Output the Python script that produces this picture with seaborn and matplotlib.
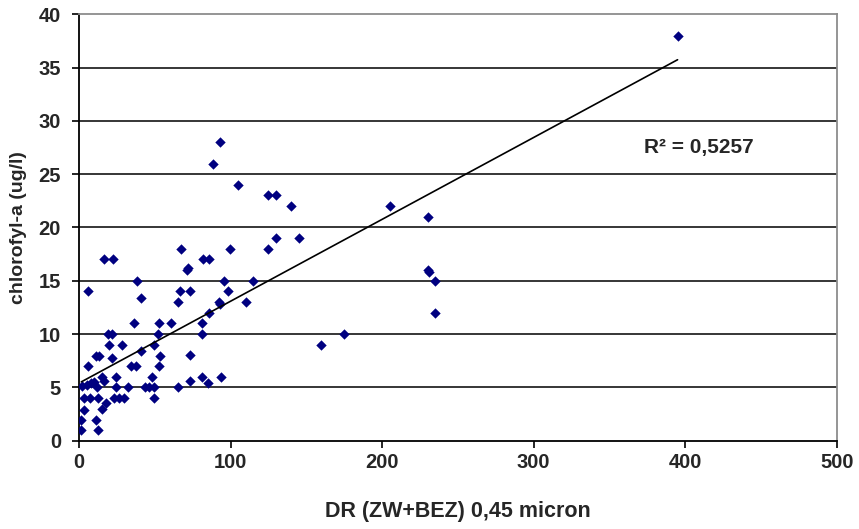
import numpy as np
import pandas as pd
import matplotlib
matplotlib.use('Agg')
import matplotlib.pyplot as plt
import seaborn as sns

# values
dr = [395, 93, 88.5, 105, 125, 130, 140, 205, 230,
      67, 99.5, 125, 130, 145,
      16.7, 22.6, 82, 86,
      71, 72, 230, 231,
      38, 95.6, 115, 235,
      6, 66.6, 73, 98,
      40.7,
      65.5, 92.5, 93, 110,
      86, 235,
      36, 53, 61, 81,
      19, 22, 52, 81, 175,
      20, 28.5, 49.5, 160,
      41,
      11, 13, 22, 53.4, 73,
      6, 34.5, 37.5, 52.5,
      15, 24.5, 48, 81, 94,
      16.5, 73, 85,
      2, 5.5, 7.7, 10, 11.6, 24.2, 32, 43.5, 46.5, 49.5, 65,
      3, 7, 12.5, 23, 26.5, 29.7, 49.6,
      17.6, 15, 3,
      1.5, 11,
      1.5, 12.5]
chl = [38, 28, 26, 24, 23, 23, 22, 22, 21,
       18, 18, 18, 19, 19,
       17, 17, 17, 17,
       16, 16.2, 16, 15.8,
       15, 15, 15, 15,
       14, 14, 14, 14,
       13.4,
       13, 13, 12.8, 13,
       12, 12,
       11, 11, 11, 11,
       10, 10, 10, 10, 10,
       9, 9, 9, 9,
       8.4,
       7.9, 7.9, 7.8, 7.9, 8,
       7, 7, 7, 7,
       6, 6, 6, 6, 6,
       5.6, 5.6, 5.4,
       5.1, 5.2, 5.4, 5.5, 5, 5, 5, 5, 5, 5, 5,
       4, 4, 4, 4, 4, 4, 4,
       3.5, 3, 2.9,
       1.9, 1.9,
       1, 1]

# linear trendline as shown in the chart (Excel fit)
trend_intercept = 5.4
trend_slope = 0.0768
r2_text = 'R² = 0,5257'

df = pd.DataFrame({'dr': dr, 'chl': chl})
trend_x = [min(dr), max(dr)]
trend = pd.DataFrame({'dr': trend_x,
                      'chl': [trend_intercept + trend_slope * v for v in trend_x]})

sns.set_style('white')
plt.rcParams['font.family'] = ['Liberation Sans', 'DejaVu Sans']

fig = plt.figure(figsize=(8.59, 5.29), dpi=100)
ax = fig.add_axes([0.092, 0.167, 0.882, 0.806])

sns.scatterplot(data=df, x='dr', y='chl', marker='D', s=28, color='#000080',
                edgecolor='#000080', linewidth=0, ax=ax, zorder=3)
sns.lineplot(data=trend, x='dr', y='chl', color='black', lw=1.2, ax=ax, zorder=4)

ax.set_xlim(0, 500)
ax.set_ylim(0, 40)
ax.set_xticks(range(0, 501, 100))
ax.set_yticks(range(0, 41, 5))
for yv in range(5, 40, 5):
    ax.axhline(yv, color='black', lw=1.1, zorder=1)

for s in ['top', 'right']:
    ax.spines[s].set_color('#8c8c8c')
    ax.spines[s].set_linewidth(1.3)
for s in ['left', 'bottom']:
    ax.spines[s].set_color('black')
    ax.spines[s].set_linewidth(1.3)

ax.tick_params(axis='both', direction='out', length=5, width=1.2, color='black',
               left=True, bottom=True, labelsize=14.5)
ax.tick_params(axis='x', pad=4)
ax.tick_params(axis='y', pad=8)
for lab in ax.get_xticklabels() + ax.get_yticklabels():
    lab.set_fontweight('bold')

ax.set_xlabel('DR (ZW+BEZ) 0,45 micron', fontsize=15.5, fontweight='bold', labelpad=21)
ax.set_ylabel('chlorofyl-a (ug/l)', fontsize=14, fontweight='bold', labelpad=8)

ax.text(409, 27.5, r2_text, ha='center', va='center', fontsize=15, fontweight='bold')

fig.savefig('out.png', dpi=100)
